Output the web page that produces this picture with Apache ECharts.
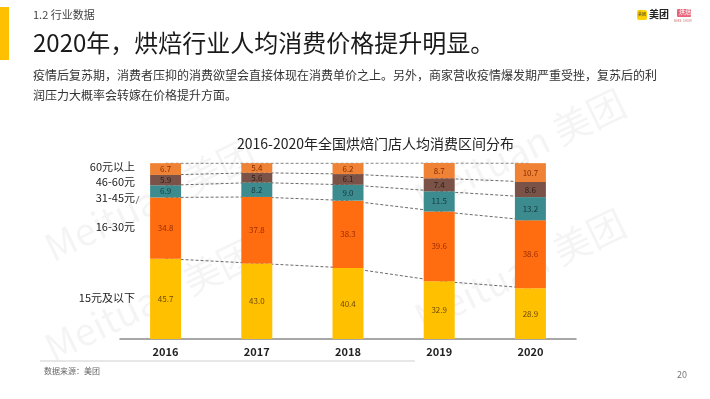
<!DOCTYPE html>
<html>
<head>
<meta charset="utf-8">
<script src="https://cdn.jsdelivr.net/npm/echarts@6/dist/echarts.min.js"></script>
<style>
  html, body { margin: 0; padding: 0; background: #fff; }
  #main { width: 710px; height: 399px; }
</style>
</head>
<body>
<div id="main"></div>
<script>
  // 年份
  var years = ['2016', '2017', '2018', '2019', '2020'];
  // 各价格区间占比(%)，从下往上堆叠
  var seg15 = [45.7, 43.0, 40.4, 32.9, 28.9];
  var seg16_30 = [34.8, 37.8, 38.3, 39.6, 38.6];
  var seg31_45 = [6.9, 8.2, 9.0, 11.5, 13.2];
  var seg46_60 = [5.9, 5.6, 6.1, 7.4, 8.6];
  var seg60 = [6.7, 5.4, 6.2, 8.7, 10.7];
  var segNames = ['15元及以下', '16-30元', '31-45元', '46-60元', '60元以上'];

  var FONT = '"Noto Sans CJK SC", "Noto Sans", sans-serif';
  var chart = echarts.init(document.getElementById('main'));

  var segs = [seg15, seg16_30, seg31_45, seg46_60, seg60];
  var colors = ['#FFC000', '#FF6D10', '#3B8B8F', '#7A5247', '#EF8234'];
  var labelColors = ['#6E4A00', '#9A2C00', '#173A3C', '#2E201B', '#8A2D00'];

  var series = [];
  // 虚线连接各区间边界（在柱子下面）
  segs.forEach(function (d, i) {
    series.push({
      name: 'l' + i,
      type: 'line',
      stack: 'lines',
      data: d,
      z: 1,
      silent: true,
      symbol: 'none',
      lineStyle: { color: '#6a6a6a', width: 1, type: [3, 2] }
    });
  });
  segs.forEach(function (d, i) {
    series.push({
      name: segNames[i],
      type: 'bar',
      stack: 'total',
      data: d,
      z: 3,
      barWidth: 31,
      itemStyle: { color: colors[i] },
      label: {
        show: true,
        position: 'inside',
        fontSize: 8,
        fontFamily: FONT,
        color: labelColors[i],
        formatter: function (p) { return p.value.toFixed(1); }
      }
    });
  });

  // 左侧区间名称
  var legendY = [300, 229, 200, 184, 169];
  var legendTexts = segNames.map(function (n, i) {
    return {
      type: 'text', right: 710 - 135, top: legendY[i] - 8,
      style: { text: n, font: '11px ' + FONT, fill: '#222', textAlign: 'right' }
    };
  });

  // 水印
  var marks = [[150, 200], [520, 150], [150, 300], [520, 270]].map(function (p) {
    return {
      type: 'text', x: p[0], y: p[1], rotation: Math.PI / 7, z: 0,
      style: { text: 'Meituan 美团', font: '38px ' + FONT, fill: 'rgba(0,0,0,0.045)', textAlign: 'center', textVerticalAlign: 'middle' }
    };
  });

  chart.setOption({
    animation: false,
    grid: { left: 120, right: 134, top: 163, bottom: 60 },
    xAxis: {
      type: 'category',
      data: years,
      axisTick: { show: false },
      axisLine: { lineStyle: { color: '#8a8a8a', width: 1.5 } },
      axisLabel: { color: '#222', fontSize: 11, fontWeight: 'bold', fontFamily: FONT, margin: 7 }
    },
    yAxis: { type: 'value', min: 0, max: 100.1, show: false },
    series: series,
    graphic: marks.concat([
      { type: 'rect', shape: { x: 0, y: 7, width: 9, height: 53 }, style: { fill: '#FFC000' } },
      { type: 'text', left: 33, top: 9, style: { text: '1.2 行业数据', font: '11px ' + FONT, fill: '#444' } },
      { type: 'text', left: 33, top: 31, style: { text: '2020年，烘焙行业人均消费价格提升明显。', font: '24px ' + FONT, fill: '#1a1a1a' } },
      { type: 'text', left: 33, top: 69, style: { text: '疫情后复苏期，消费者压抑的消费欲望会直接体现在消费单价之上。另外，商家营收疫情爆发期严重受挫，复苏后的利', font: '12px ' + FONT, fill: '#333' } },
      { type: 'text', left: 33, top: 89, style: { text: '润压力大概率会转嫁在价格提升方面。', font: '12px ' + FONT, fill: '#333' } },
      { type: 'text', left: 237, top: 137, style: { text: '2016-2020年全国烘焙门店人均消费区间分布', font: '14px ' + FONT, fill: '#222' } },
      // 右上角标志
      { type: 'rect', shape: { x: 637, y: 10, width: 10, height: 10, r: 2 }, style: { fill: '#FFD100' } },
      { type: 'text', left: 638, top: 12, style: { text: '美团', font: '4px ' + FONT, fill: '#333' } },
      { type: 'text', left: 649, top: 9, style: { text: '美团', font: 'bold 10px ' + FONT, fill: '#222' } },
      { type: 'rect', shape: { x: 677, y: 9, width: 14, height: 8, r: 1 }, style: { fill: '#E8647A' } },
      { type: 'text', left: 679, top: 9, style: { text: '烘焙', font: '6px ' + FONT, fill: '#fff' } },
      { type: 'text', left: 674, top: 19, style: { text: 'BAKE  SHOW', font: '3px ' + FONT, fill: '#c77' } },
      // 左侧图例文字 与 斜线
      { type: 'line', shape: { x1: 136, y1: 204, x2: 139, y2: 196 }, style: { stroke: '#555', lineWidth: 0.8 } },
      // 页脚
      { type: 'line', shape: { x1: 40, y1: 361, x2: 415, y2: 361 }, style: { stroke: '#cfcfcf', lineWidth: 1 } },
      { type: 'text', left: 44, top: 367, style: { text: '数据来源：美团', font: '8px ' + FONT, fill: '#666' } },
      { type: 'text', left: 677, top: 370, style: { text: '20', font: '9px ' + FONT, fill: '#777' } }
    ]).concat(legendTexts)
  });
</script>
</body>
</html>
